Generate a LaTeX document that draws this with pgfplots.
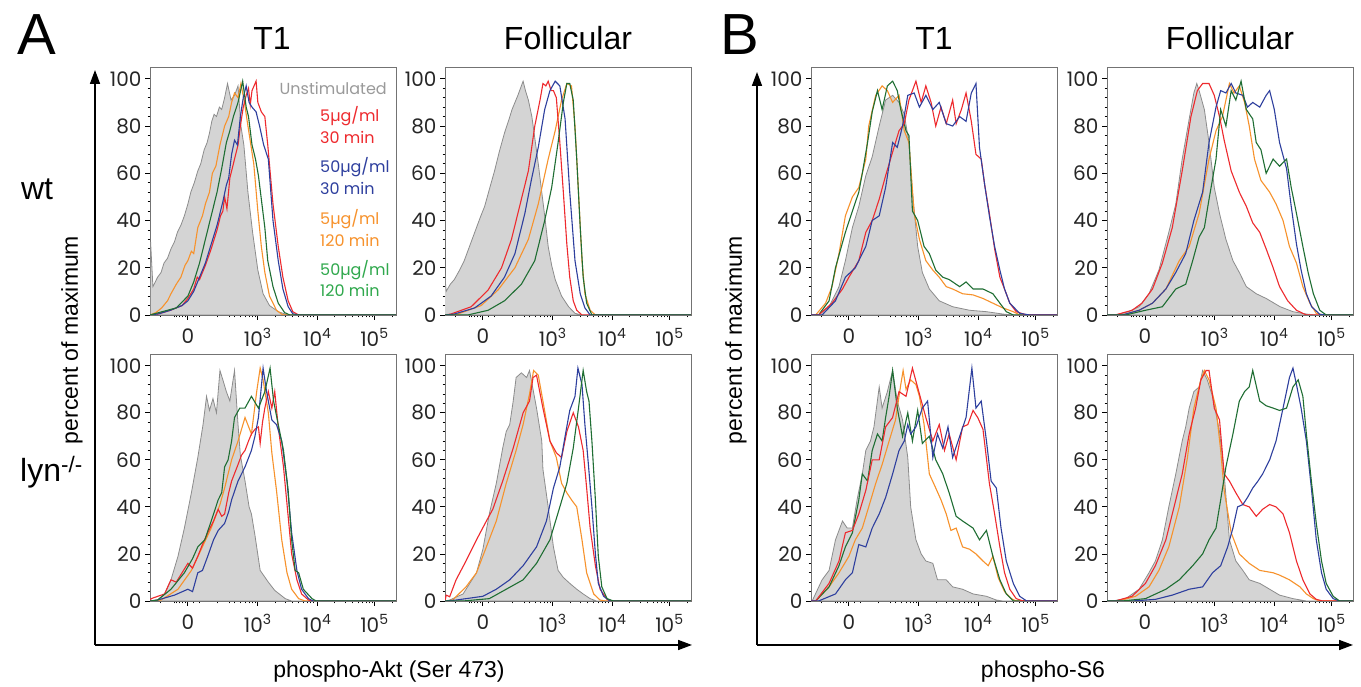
\documentclass[border=0pt]{standalone}
\usepackage{fontspec}
\setmainfont{Liberation Sans}
\newfontfamily\geo{Poppins}
\usepackage{pgfplots}
\pgfplotsset{compat=1.18}
\usetikzlibrary{arrows.meta}

\definecolor{cRed}{HTML}{EE2A2E}
\definecolor{cBlue}{HTML}{2E3F9E}
\definecolor{cOrange}{HTML}{F7922C}
\definecolor{cGreen}{HTML}{1F6E33}
\definecolor{tGreen}{HTML}{2FA84C}
\definecolor{cGrayFill}{HTML}{D4D4D4}
\definecolor{cGrayLine}{HTML}{8C8C8C}
\definecolor{tGray}{HTML}{9A9A9A}

\pgfplotsset{
  histo/.style={
    scale only axis, width=246pt, height=248pt,
    anchor=south west,
    xmin=-0.65, xmax=3.57, ymin=0, ymax=105,
    axis line style={draw=black!55, line width=0.9pt},
    tick align=outside, tick pos=left,
    xtick={0,1.2,2.22,3.2},
    xticklabels={0,10\textsuperscript{3},10\textsuperscript{4},10\textsuperscript{5}},
    minor xtick={-0.47,-0.24,-0.19,-0.14,-0.09,-0.04,0.1,0.2,0.5,0.72,0.8,0.9,0.98,1.05,1.1,1.15,
      1.5,1.68,1.8,1.9,1.98,2.05,2.1,2.16,2.52,2.7,2.82,2.92,3.0,3.07,3.12,3.17,3.5},
    ytick={0,20,40,60,80,100},
    yticklabels={0,20,40,60,80,100},
    minor y tick num=4,
    major tick length=5pt, minor tick length=2.5pt,
    tick style={black, line width=0.8pt},
    every tick label/.style={font=\geo\fontsize{20}{20}\selectfont, text=black!85},
    xticklabel style={yshift=-5pt},
  },
  unst/.style={fill=cGrayFill, draw=cGrayLine, line width=0.8pt},
  sR/.style={cRed, line width=1.1pt},
  sB/.style={cBlue, line width=1.1pt},
  sO/.style={cOrange, line width=1.1pt},
  sG/.style={cGreen, line width=1.1pt},
}

\begin{document}
\begin{tikzpicture}
\fill[white] (0pt,0pt) rectangle (1361pt,687pt);
\useasboundingbox (0pt,0pt) rectangle (1361pt,687pt);

% ---------------- A, T1, wt
\begin{axis}[histo, at={(150pt,372pt)}]
\addplot[unst] coordinates {(-0.64,0)(-0.64,31)(-0.60,12)(-0.52,16)(-0.46,18)(-0.41,22)(-0.35,24)(-0.29,28)(-0.23,31)(-0.18,35)(-0.12,38)(-0.06,42)(0.0,47)(0.05,52)(0.11,56)(0.17,61)(0.22,64)(0.28,70)(0.33,73)(0.37,77)(0.41,82)(0.45,85)(0.49,84)(0.54,88)(0.58,87)(0.63,92)(0.68,98)(0.74,91)(0.8,93)(0.86,97)(0.91,80)(0.96,72)(1.03,52)(1.11,35)(1.2,19)(1.29,9)(1.40,4)(1.55,1.4)(1.72,0)(3.57,0)} \closedcycle;
\addplot[sO] coordinates {(-0.65,0)(-0.55,1)(-0.45,3)(-0.35,6)(-0.29,9)(-0.2,13)(-0.12,16)(-0.05,21)(0.0,23)(0.06,27)(0.1,26)(0.17,37)(0.25,42)(0.3,47)(0.37,52)(0.42,60)(0.48,63)(0.55,72)(0.63,80)(0.7,84)(0.75,90)(0.8,94)(0.86,92)(0.91,98)(0.97,90)(1.03,80)(1.08,72)(1.13,64)(1.2,44)(1.26,29)(1.32,18)(1.4,8)(1.52,2)(1.63,0)(3.57,0)};
\addplot[sR] coordinates {(-0.65,0)(-0.5,0.5)(-0.3,2)(-0.1,4)(0.0,7)(0.1,11)(0.16,16)(0.2,15)(0.3,21)(0.4,28)(0.5,36)(0.56,42)(0.6,44)(0.63,50)(0.67,45)(0.72,58)(0.8,66)(0.86,72)(0.9,80)(0.95,88)(1.0,93)(1.04,96)(1.07,89)(1.1,95)(1.17,99)(1.2,90)(1.26,86)(1.32,84)(1.37,72)(1.42,58)(1.46,47)(1.55,29)(1.63,16)(1.72,6)(1.8,1.4)(1.9,0)(3.57,0)};
\addplot[sB] coordinates {(-0.65,0)(-0.5,0.5)(-0.3,2)(-0.1,4)(0.0,6)(0.1,10)(0.2,16)(0.3,22)(0.4,30)(0.5,38)(0.6,48)(0.66,55)(0.7,58)(0.75,68)(0.8,74)(0.85,72)(0.9,84)(0.95,92)(1.0,97)(1.05,90)(1.1,88)(1.17,86)(1.23,80)(1.3,72)(1.38,66)(1.46,40)(1.55,23)(1.63,11)(1.72,3.5)(1.8,0.5)(1.9,0)(3.57,0)};
\addplot[sG] coordinates {(-0.65,0)(-0.5,1)(-0.2,3)(0.0,8)(0.1,14)(0.2,22)(0.3,32)(0.4,42)(0.5,52)(0.58,62)(0.66,73)(0.72,78)(0.78,84)(0.86,90)(0.94,99)(1.0,88)(1.04,84)(1.1,72)(1.16,66)(1.21,59)(1.26,49)(1.32,37)(1.37,23)(1.46,12)(1.55,5)(1.66,1)(1.75,0)(3.57,0)};
\end{axis}

% ---------------- A, Follicular, wt
\begin{axis}[histo, at={(445pt,372pt)}]
\addplot[unst] coordinates {(-0.67,0)(-0.67,22)(-0.63,10)(-0.56,13)(-0.49,15)(-0.4,19)(-0.32,23)(-0.23,29)(-0.14,35)(-0.05,41)(0.03,46)(0.12,54)(0.2,61)(0.28,69)(0.37,77)(0.45,83)(0.5,87)(0.55,90)(0.6,93)(0.66,97)(0.69,99)(0.73,95)(0.78,91)(0.84,84)(0.89,75)(0.95,64)(1.01,52)(1.07,40)(1.12,29)(1.18,21)(1.24,15)(1.35,8)(1.47,3.5)(1.58,0.7)(1.7,0)(3.57,0)} \closedcycle;
\addplot[sO] coordinates {(-0.65,0)(-0.43,0.4)(-0.03,4)(0.26,10.6)(0.55,20)(0.78,32)(0.95,47)(1.12,66)(1.24,78)(1.35,91)(1.44,98)(1.52,97)(1.58,80)(1.64,52)(1.70,23)(1.75,9)(1.84,2)(1.93,0)(3.57,0)};
\addplot[sR] coordinates {(-0.65,0)(-0.55,0.4)(-0.2,3.5)(0.09,10.6)(0.32,20)(0.49,32)(0.66,49)(0.78,61)(0.89,80)(0.98,91)(1.03,98)(1.08,97)(1.12,99)(1.17,95)(1.21,95)(1.26,92)(1.32,73)(1.38,52)(1.44,30)(1.49,16)(1.55,6)(1.61,2)(1.7,0)(3.57,0)};
\addplot[sB] coordinates {(-0.65,0)(-0.49,0.4)(-0.14,3)(0.14,8)(0.37,16)(0.55,26)(0.72,43)(0.83,57)(0.95,71)(1.06,87)(1.15,95)(1.24,99)(1.32,97)(1.41,83)(1.49,52)(1.58,23)(1.67,9)(1.75,3)(1.84,0)(3.57,0)};
\addplot[sG] coordinates {(-0.65,0)(-0.26,0)(0.09,2)(0.37,6)(0.66,13)(0.89,23)(1.06,40)(1.18,54)(1.29,73)(1.38,90)(1.44,98)(1.49,98)(1.55,91)(1.61,66)(1.67,37)(1.72,16)(1.78,5)(1.87,0)(3.57,0)};
\end{axis}

% ---------------- A, T1, lyn
\begin{axis}[histo, at={(150pt,86pt)}, height=247pt]
\addplot[unst] coordinates {(-0.65,0)(-0.52,0.4)(-0.40,3)(-0.29,9)(-0.17,19)(-0.06,31)(0.06,46)(0.17,61)(0.26,75)(0.32,87)(0.37,81)(0.43,86)(0.49,80)(0.55,98)(0.6,94)(0.66,89)(0.72,85)(0.8,98)(0.86,75)(0.9,62)(0.98,51)(1.05,40)(1.09,37)(1.15,28)(1.24,13)(1.38,8)(1.49,4.5)(1.67,1)(1.78,0)(3.57,0)} \closedcycle;
\addplot[sO] coordinates {(-0.65,0)(-0.46,0.4)(-0.17,5)(0.06,13)(0.23,22)(0.40,31)(0.55,41)(0.63,48)(0.75,60)(0.86,68)(0.98,78)(1.09,71)(1.18,89)(1.24,99)(1.29,94)(1.38,80)(1.44,63)(1.52,47)(1.61,26)(1.70,12)(1.78,5)(1.90,1)(2.01,0)(3.57,0)};
\addplot[sR] coordinates {(-0.65,0)(-0.63,1)(-0.4,3)(-0.29,9)(-0.2,8)(-0.1,12)(0.0,16)(0.08,14)(0.17,19)(0.25,24)(0.34,29)(0.44,34)(0.52,39)(0.58,36)(0.63,37)(0.7,46)(0.75,51)(0.86,58)(0.92,62)(0.98,64)(1.04,68)(1.09,71)(1.15,73)(1.21,74)(1.24,67)(1.28,76)(1.32,82)(1.38,89)(1.44,82)(1.49,89)(1.55,74)(1.64,57)(1.72,36)(1.78,20)(1.87,9)(1.95,3)(2.07,0.4)(2.15,0)(3.57,0)};
\addplot[sB] coordinates {(-0.65,0)(-0.52,0.4)(-0.23,2.5)(0.0,5)(0.08,4)(0.17,12)(0.25,13)(0.34,19)(0.44,26)(0.52,30)(0.63,33)(0.7,38)(0.75,43)(0.86,51)(0.98,57)(1.09,64)(1.15,70)(1.21,78)(1.29,99)(1.35,89)(1.44,77)(1.52,75)(1.61,68)(1.70,51)(1.78,29)(1.87,13)(1.95,5)(2.07,1)(2.15,0)(3.57,0)};
\addplot[sG] coordinates {(-0.65,0)(-0.52,0.4)(-0.29,5)(-0.06,12)(0.08,18)(0.17,23)(0.29,26)(0.40,34)(0.52,43)(0.58,46)(0.63,57)(0.69,60)(0.75,68)(0.80,78)(0.89,82)(0.98,82)(1.09,87)(1.21,82)(1.32,89)(1.41,99)(1.47,85)(1.55,75)(1.64,64)(1.72,47)(1.78,26)(1.84,13)(1.90,12)(1.98,5)(2.13,1)(2.2,0)(3.57,0)};
\end{axis}

% ---------------- A, Follicular, lyn
\begin{axis}[histo, at={(445pt,86pt)}, height=247pt]
\addplot[unst] coordinates {(-0.65,0)(-0.57,0.4)(-0.34,3)(-0.11,12)(0.0,22)(0.11,37)(0.23,50)(0.34,65)(0.4,72)(0.46,75)(0.52,85)(0.57,95)(0.66,97)(0.75,95)(0.8,98)(0.92,82)(1.01,68)(1.03,56)(1.12,40)(1.21,23)(1.29,13)(1.38,10)(1.49,7.5)(1.61,5)(1.72,3)(1.84,1)(1.95,0)(3.57,0)} \closedcycle;
\addplot[sO] coordinates {(-0.65,0)(-0.52,0.4)(-0.29,6)(-0.11,12)(0.06,23)(0.23,34)(0.40,50)(0.57,64)(0.69,75)(0.80,88)(0.87,98)(0.95,96)(1.03,85)(1.15,68)(1.26,61)(1.35,50)(1.44,46)(1.52,43)(1.61,40)(1.70,26)(1.78,12)(1.90,3)(2.01,0.4)(2.1,0)(3.57,0)};
\addplot[sR] coordinates {(-0.65,0)(-0.63,2.5)(-0.57,1.8)(-0.46,9)(-0.29,17)(-0.11,26)(0.06,34)(0.17,39)(0.34,51)(0.52,65)(0.69,80)(0.8,85)(0.86,95)(0.92,96)(1.03,82)(1.15,68)(1.26,63)(1.35,61)(1.44,72)(1.55,80)(1.64,74)(1.72,64)(1.78,48)(1.84,31)(1.93,15)(2.01,5)(2.13,0.7)(2.2,0)(3.57,0)};
\addplot[sB] coordinates {(-0.65,0)(-0.46,0.4)(0.0,2)(0.23,5)(0.46,9)(0.69,15)(0.92,23)(1.09,34)(1.21,48)(1.32,57)(1.41,70)(1.49,81)(1.58,87)(1.63,99)(1.70,92)(1.75,75)(1.81,58)(1.87,40)(1.93,20)(1.98,7.5)(2.07,2)(2.18,0)(3.57,0)};
\addplot[sG] coordinates {(-0.65,0)(-0.34,0)(0.11,1)(0.40,5)(0.69,9)(0.92,16)(1.15,26)(1.32,40)(1.44,50)(1.55,65)(1.64,82)(1.70,94)(1.72,98)(1.78,89)(1.82,85)(1.87,68)(1.93,43)(1.98,19)(2.04,6)(2.13,1)(2.24,0)(3.57,0)};
\end{axis}

% ---------------- B, T1, wt
\begin{axis}[histo, at={(811pt,372pt)}]
\addplot[unst] coordinates {(-0.65,0)(-0.52,0)(-0.34,3.5)(-0.17,12)(-0.06,23)(0.06,37)(0.17,46)(0.29,59)(0.40,67)(0.52,80)(0.63,91)(0.75,93)(0.86,90)(0.95,85)(1.03,73)(1.09,52)(1.18,29)(1.26,18)(1.38,11)(1.55,6)(1.78,3.5)(2.07,2)(2.36,1.4)(2.64,0.4)(2.82,0)(3.57,0)} \closedcycle;
\addplot[sO] coordinates {(-0.65,0)(-0.57,0)(-0.40,5)(-0.29,12)(-0.17,26)(-0.06,42)(0.06,50)(0.17,54)(0.29,66)(0.34,80)(0.46,93)(0.57,97)(0.66,95)(0.75,90)(0.86,93)(0.95,78)(1.03,73)(1.12,43)(1.21,32)(1.32,23)(1.44,19)(1.55,16)(1.67,12)(1.78,11)(1.95,9)(2.13,8.5)(2.30,7)(2.47,5)(2.64,3)(2.82,1.4)(2.93,0)(3.57,0)};
\addplot[sG] coordinates {(-0.65,0)(-0.52,0)(-0.34,6)(-0.23,20)(-0.14,28)(-0.06,35)(0.06,44)(0.17,52)(0.23,60)(0.32,73)(0.40,86)(0.49,95)(0.57,87)(0.66,97)(0.75,99)(0.83,95)(0.89,87)(0.98,78)(1.03,76)(1.09,44)(1.18,40)(1.29,29)(1.38,26)(1.49,19)(1.61,16)(1.72,15)(1.90,12)(2.01,14)(2.13,11)(2.30,11)(2.47,9)(2.59,5)(2.70,1.4)(2.82,0)(3.57,0)};
\addplot[sR] coordinates {(-0.65,0)(-0.52,0)(-0.29,5)(-0.11,11)(0.0,16)(0.17,23)(0.29,35)(0.40,40)(0.52,49)(0.63,59)(0.75,69)(0.86,78)(0.95,81)(1.03,91)(1.15,99)(1.24,90)(1.32,97)(1.41,90)(1.49,80)(1.58,88)(1.67,81)(1.78,91)(1.84,81)(1.93,87)(2.01,94)(2.10,82)(2.18,68)(2.27,66)(2.33,55)(2.41,43)(2.50,28)(2.59,16)(2.67,11)(2.76,5)(2.87,1.4)(3.05,0)(3.57,0)};
\addplot[sB] coordinates {(-0.65,0)(-0.46,0)(-0.23,6)(-0.06,16)(0.11,20)(0.29,29)(0.40,40)(0.52,42)(0.63,54)(0.75,73)(0.83,71)(0.92,80)(1.01,93)(1.12,94)(1.21,88)(1.32,93)(1.44,87)(1.55,90)(1.67,81)(1.78,80)(1.90,84)(2.01,82)(2.10,94)(2.18,98)(2.24,71)(2.33,55)(2.41,42)(2.50,29)(2.59,19)(2.67,11)(2.76,5)(2.93,0.7)(3.10,0)(3.57,0)};
\end{axis}

% ---------------- B, Follicular, wt
\begin{axis}[histo, at={(1107pt,372pt)}]
\addplot[unst] coordinates {(-0.65,0)(-0.51,0)(-0.28,1.4)(-0.10,3.5)(0.07,9)(0.24,19)(0.41,35)(0.53,47)(0.64,66)(0.76,83)(0.84,94)(0.89,98)(0.93,95)(1.02,87)(1.10,73)(1.19,54)(1.28,43)(1.39,32)(1.51,23)(1.62,18)(1.74,12)(1.91,9)(2.08,7)(2.32,3.5)(2.54,1.4)(2.77,0.4)(2.94,0)(3.57,0)} \closedcycle;
\addplot[sO] coordinates {(-0.65,0)(-0.39,0)(-0.10,2)(0.13,5)(0.36,11)(0.59,23)(0.76,29)(0.93,43)(1.10,66)(1.22,78)(1.33,84)(1.45,98)(1.53,94)(1.62,97)(1.71,90)(1.79,80)(1.88,66)(1.99,57)(2.14,52)(2.25,47)(2.37,40)(2.48,29)(2.60,22)(2.71,12)(2.83,5)(2.94,0.7)(3.06,0)(3.57,0)};
\addplot[sR] coordinates {(-0.65,0)(-0.51,0)(-0.22,2)(-0.05,5)(0.13,11)(0.30,22)(0.47,37)(0.64,61)(0.79,84)(0.90,95)(0.99,98)(1.10,98)(1.19,93)(1.28,84)(1.36,74)(1.48,61)(1.62,52)(1.74,46)(1.85,39)(1.97,35)(2.08,28)(2.20,20)(2.31,12)(2.45,6)(2.60,2)(2.77,0)(3.57,0)};
\addplot[sB] coordinates {(-0.65,0)(-0.39,0)(-0.10,2)(0.13,5)(0.36,11)(0.53,18)(0.70,26)(0.84,40)(0.99,52)(1.10,73)(1.22,88)(1.30,95)(1.39,94)(1.48,98)(1.56,94)(1.68,93)(1.76,88)(1.85,90)(1.97,88)(2.08,93)(2.14,95)(2.22,87)(2.31,73)(2.43,62)(2.51,46)(2.60,30)(2.68,19)(2.77,9)(2.86,3.5)(3.0,0.3)(3.11,0)(3.57,0)};
\addplot[sG] coordinates {(-0.65,0)(-0.33,0)(0.01,2)(0.30,3.5)(0.53,11)(0.70,13)(0.82,23)(0.93,33)(1.02,37)(1.10,49)(1.22,66)(1.30,87)(1.39,80)(1.48,95)(1.56,91)(1.65,99)(1.74,87)(1.85,83)(1.91,73)(1.99,70)(2.08,60)(2.20,66)(2.31,63)(2.43,66)(2.51,54)(2.60,43)(2.71,29)(2.80,18)(2.89,9)(3.0,2)(3.11,0)(3.57,0)};
\end{axis}

% ---------------- B, T1, lyn
\begin{axis}[histo, at={(811pt,86pt)}, height=247pt]
\addplot[unst] coordinates {(-0.65,0)(-0.63,0)(-0.46,9)(-0.34,13)(-0.23,26)(-0.11,34)(-0.03,31)(0.06,31)(0.14,43)(0.23,54)(0.29,64)(0.37,68)(0.43,74)(0.52,91)(0.57,82)(0.66,89)(0.75,98)(0.83,85)(0.92,77)(1.01,61)(1.06,40)(1.15,26)(1.24,20)(1.32,17)(1.44,16)(1.52,9)(1.67,9)(1.78,6)(1.95,5)(2.13,3)(2.36,2)(2.53,0.4)(2.64,0)(3.57,0)} \closedcycle;
\addplot[sO] coordinates {(-0.65,0)(-0.57,0)(-0.34,6)(-0.17,12)(0.0,19)(0.11,26)(0.23,31)(0.34,40)(0.46,50)(0.57,58)(0.69,68)(0.80,77)(0.89,92)(0.93,98)(0.98,90)(1.06,94)(1.15,92)(1.21,87)(1.29,75)(1.38,54)(1.49,48)(1.58,43)(1.67,37)(1.75,30)(1.84,31)(1.95,23)(2.07,22)(2.18,20)(2.30,17)(2.39,15)(2.47,19)(2.56,10)(2.67,4)(2.79,1)(2.87,0)(3.57,0)};
\addplot[sG] coordinates {(-0.65,0)(-0.57,0)(-0.34,6)(-0.17,15)(-0.06,23)(0.06,29)(0.17,43)(0.23,54)(0.32,51)(0.40,64)(0.49,71)(0.57,68)(0.63,78)(0.69,87)(0.75,98)(0.83,82)(0.92,70)(1.01,80)(1.09,68)(1.18,81)(1.26,67)(1.38,70)(1.49,60)(1.61,54)(1.72,46)(1.84,36)(1.95,34)(2.13,31)(2.24,26)(2.36,30)(2.47,19)(2.59,9)(2.70,3)(2.82,0)(3.57,0)};
\addplot[sR] coordinates {(-0.65,0)(-0.57,0)(-0.34,7.5)(-0.17,17)(-0.06,29)(0.06,30)(0.17,37)(0.29,47)(0.40,60)(0.52,60)(0.63,74)(0.75,78)(0.86,89)(0.98,87)(1.09,99)(1.21,88)(1.32,78)(1.44,68)(1.55,75)(1.64,64)(1.72,71)(1.84,60)(1.95,74)(2.04,75)(2.13,81)(2.21,78)(2.30,73)(2.41,50)(2.50,37)(2.59,23)(2.67,12)(2.76,5)(2.87,1)(2.99,0)(3.57,0)};
\addplot[sB] coordinates {(-0.65,0)(-0.52,0)(-0.23,3)(-0.06,9)(0.06,12)(0.17,24)(0.29,23)(0.40,31)(0.52,37)(0.63,44)(0.75,54)(0.86,64)(0.95,68)(1.01,75)(1.06,71)(1.15,74)(1.26,82)(1.35,85)(1.44,61)(1.52,71)(1.61,65)(1.70,74)(1.78,61)(1.90,70)(2.01,78)(2.11,99)(2.18,82)(2.27,85)(2.36,68)(2.44,51)(2.53,48)(2.61,31)(2.70,17)(2.82,7.5)(2.93,2)(3.05,0)(3.57,0)};
\end{axis}

% ---------------- B, Follicular, lyn
\begin{axis}[histo, at={(1107pt,86pt)}, height=247pt]
\addplot[unst] coordinates {(-0.65,0)(-0.56,0)(-0.33,1)(-0.10,5)(0.07,12)(0.18,17)(0.30,26)(0.41,40)(0.53,54)(0.64,68)(0.70,74)(0.76,82)(0.84,89)(0.93,91)(0.99,98)(1.07,94)(1.16,87)(1.28,72)(1.36,54)(1.45,26)(1.56,17)(1.68,13)(1.79,9)(1.97,7.5)(2.14,5)(2.31,2.5)(2.54,1)(2.77,0)(3.57,0)} \closedcycle;
\addplot[sO] coordinates {(-0.65,0)(-0.45,0)(-0.16,2)(0.07,6)(0.24,13)(0.41,23)(0.59,40)(0.73,61)(0.84,82)(0.96,94)(1.02,98)(1.10,94)(1.22,82)(1.30,64)(1.36,47)(1.48,29)(1.62,20)(1.79,16)(1.97,13)(2.20,12)(2.31,11)(2.48,9)(2.66,6)(2.77,3)(2.89,1)(3.0,0)(3.57,0)};
\addplot[sR] coordinates {(-0.65,0)(-0.51,0)(-0.22,2)(0.01,7.5)(0.18,15)(0.36,26)(0.53,43)(0.64,54)(0.76,71)(0.87,82)(0.96,94)(1.05,98)(1.10,98)(1.19,82)(1.28,77)(1.36,54)(1.45,51)(1.56,46)(1.68,41)(1.79,40)(1.91,36)(2.02,39)(2.14,41)(2.25,40)(2.37,37)(2.48,29)(2.60,17)(2.71,9)(2.83,3)(2.94,0.7)(3.05,0)(3.57,0)};
\addplot[sB] coordinates {(-0.65,0)(-0.22,0)(0.18,0.7)(0.47,2.5)(0.76,5)(0.99,6)(1.16,12)(1.30,15)(1.42,23)(1.51,31)(1.59,40)(1.68,41)(1.76,44)(1.85,48)(1.94,51)(2.02,54)(2.14,60)(2.25,68)(2.37,82)(2.48,95)(2.54,99)(2.60,92)(2.68,82)(2.77,68)(2.86,47)(2.94,26)(3.03,12)(3.11,5)(3.23,1)(3.34,0)(3.57,0)};
\addplot[sG] coordinates {(-0.65,0)(-0.39,0)(0.01,1)(0.36,5)(0.59,9)(0.82,15)(0.99,20)(1.10,26)(1.22,31)(1.30,43)(1.39,57)(1.51,71)(1.62,85)(1.71,89)(1.79,91)(1.85,98)(1.97,85)(2.08,83)(2.20,82)(2.31,81)(2.43,82)(2.54,91)(2.63,94)(2.71,87)(2.77,71)(2.86,50)(2.94,33)(3.03,17)(3.11,7.5)(3.23,2)(3.34,0)(3.57,0)};
\end{axis}

% ---------------- legend inside A, T1, wt
\begin{scope}[font=\geo\fontsize{16}{16}\selectfont]
\node[anchor=base east, inner sep=0pt, text=tGray] at (387pt,592pt) {Unstimulated};
\node[anchor=base west, inner sep=0pt, text=cRed] at (320pt,565pt) {5µg/ml};
\node[anchor=base west, inner sep=0pt, text=cRed] at (320pt,543pt) {30 min};
\node[anchor=base west, inner sep=0pt, text=cBlue] at (320pt,514pt) {50µg/ml};
\node[anchor=base west, inner sep=0pt, text=cBlue] at (320pt,492pt) {30 min};
\node[anchor=base west, inner sep=0pt, text=cOrange] at (320pt,462pt) {5µg/ml};
\node[anchor=base west, inner sep=0pt, text=cOrange] at (320pt,440pt) {120 min};
\node[anchor=base west, inner sep=0pt, text=tGreen] at (320pt,411pt) {50µg/ml};
\node[anchor=base west, inner sep=0pt, text=tGreen] at (320pt,390pt) {120 min};
\end{scope}

% ---------------- panel letters, column and row titles
\node[anchor=base, inner sep=0pt, font=\fontsize{58}{58}\selectfont] at (37pt,632pt) {A};
\node[anchor=base, inner sep=0pt, font=\fontsize{58}{58}\selectfont] at (740pt,632pt) {B};
\begin{scope}[font=\fontsize{32}{32}\selectfont]
\node[anchor=base, inner sep=0pt] at (272pt,637pt) {T1};
\node[anchor=base, inner sep=0pt] at (568pt,637pt) {Follicular};
\node[anchor=base, inner sep=0pt] at (934pt,637pt) {T1};
\node[anchor=base, inner sep=0pt] at (1230pt,637pt) {Follicular};
\node[anchor=base, inner sep=0pt] at (37pt,487pt) {wt};
\node[anchor=base west, inner sep=0pt] at (20pt,205pt) {lyn\textsuperscript{-/-}};
\end{scope}

% ---------------- outer axes arrows and labels
\begin{scope}[line width=1.6pt, -{Triangle[length=14pt,width=10pt]}]
\draw (95pt,42pt) -- (95pt,617pt);
\draw (95pt,42pt) -- (692pt,42pt);
\draw (757pt,42pt) -- (757pt,615pt);
\draw (757pt,42pt) -- (1353pt,42pt);
\end{scope}
\begin{scope}[font=\fontsize{23}{23}\selectfont]
\node[rotate=90, inner sep=0pt] at (72pt,347pt) {percent of maximum};
\node[rotate=90, inner sep=0pt] at (736pt,347pt) {percent of maximum};
\node[anchor=base, inner sep=0pt] at (389pt,9pt) {phospho-Akt (Ser 473)};
\node[anchor=base, inner sep=0pt] at (1043pt,9pt) {phospho-S6};
\end{scope}
\end{tikzpicture}
\end{document}
